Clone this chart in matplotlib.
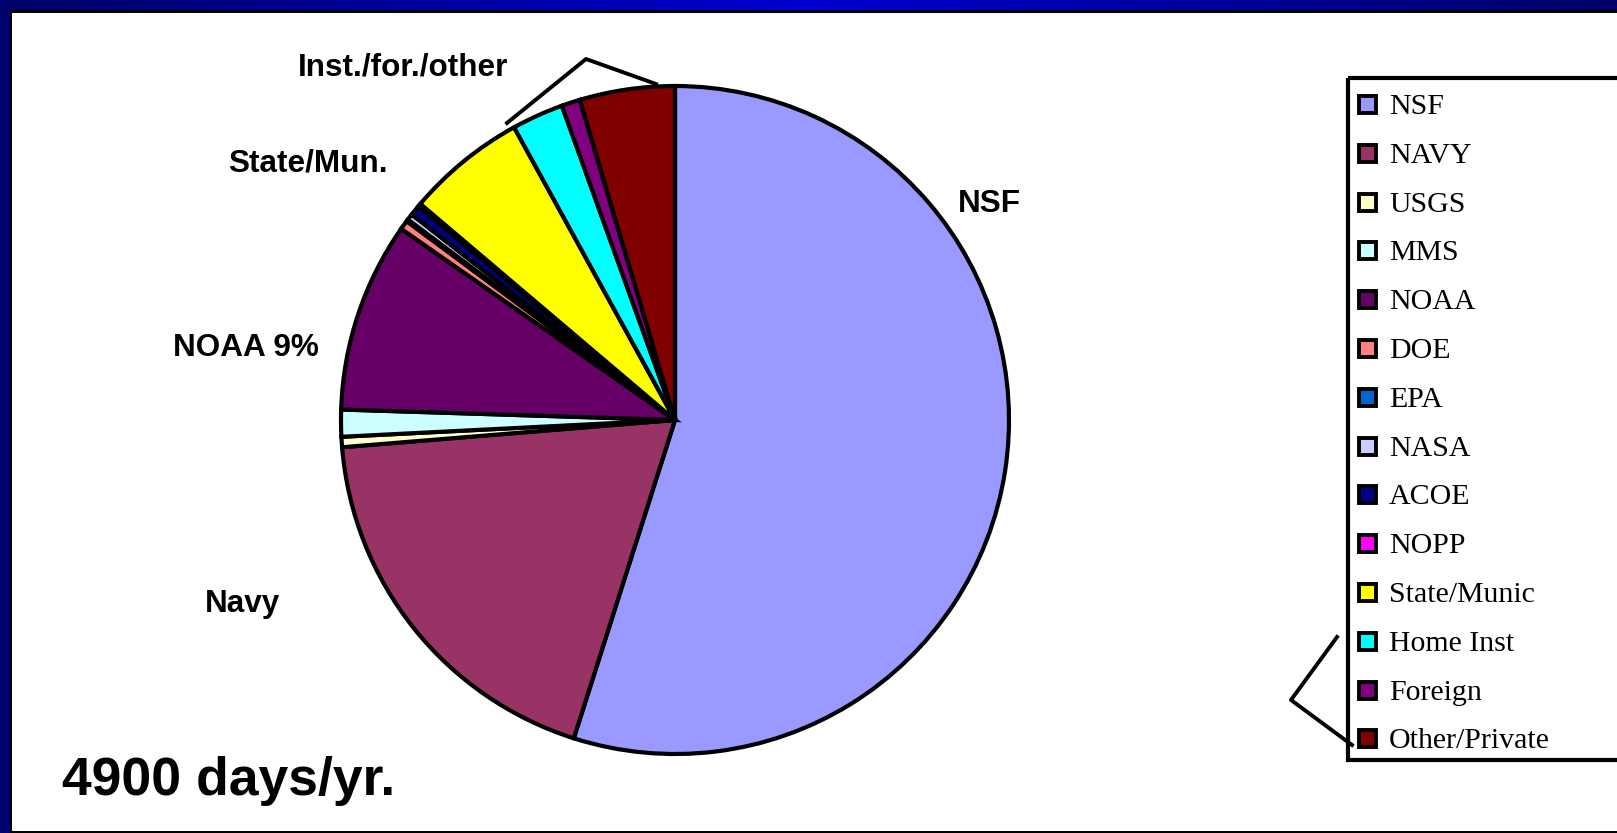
import numpy as np
import matplotlib
matplotlib.use("Agg")
import matplotlib.pyplot as plt
from matplotlib.patches import Rectangle
from matplotlib.lines import Line2D

# ---- data (share of ship days, %) ----
sponsors = ["NSF", "NAVY", "USGS", "MMS", "NOAA", "DOE", "EPA", "NASA",
            "ACOE", "NOPP", "State/Munic", "Home Inst", "Foreign", "Other/Private"]
shares = [54.9, 18.8, 0.5, 1.3, 9.2, 0.45, 0.1, 0.3, 0.5, 0.15, 5.8, 2.5, 0.9, 4.6]
colors = ["#9999FF", "#993366", "#FFFFCC", "#CCFFFF", "#660066", "#FF8080",
          "#0066CC", "#CCCCFF", "#000080", "#FF00FF", "#FFFF00", "#00FFFF",
          "#800080", "#800000"]
pie_labels = ["NSF", "Navy", "NOAA 9%", "State/Mun.", "Inst./for./other"]
total_text = "4900 days/yr."

W, H = 1617, 833
DPI = 100
fig = plt.figure(figsize=(W / DPI, H / DPI), dpi=DPI)
fig.patch.set_facecolor("white")

def fx(x):
    return x / W

def fy(y):
    return 1 - y / H

# ---- slide frame ----
bg = fig.add_axes([0, 0, 1, 1])
bg.set_xlim(0, W)
bg.set_ylim(H, 0)
bg.axis("off")
grad = np.abs(np.linspace(-1, 1, 400))
top = np.zeros((1, 400, 3))
top[0, :, 2] = 0.82 - 0.42 * grad
bg.imshow(top, extent=(0, W, 11, 0), aspect="auto", zorder=1)
bg.add_patch(Rectangle((0, 0), 10, H, color="#000070", zorder=2, lw=0))
bg.add_patch(Rectangle((10, 10), W - 10, 3, color="black", zorder=3, lw=0))
bg.add_patch(Rectangle((10, 10), 2, H - 10, color="black", zorder=3, lw=0))
bg.add_patch(Rectangle((10, 831), W - 10, 2, color="black", zorder=3, lw=0))

# ---- pie ----
cx, cy, r = 675, 420, 334
ax = fig.add_axes([fx(cx - r), fy(cy + r), 2 * r / W, 2 * r / H])
wedges, _ = ax.pie(shares, colors=colors, startangle=90, counterclock=False,
                   radius=1, wedgeprops=dict(edgecolor="black", linewidth=3))
ax.set_xlim(-1, 1)
ax.set_ylim(-1, 1)
ax.set_aspect("equal")
ax.axis("off")
for w in wedges:
    w.set_clip_on(False)

# ---- pie labels ----
lab_font = dict(family="Liberation Sans", weight="bold", fontsize=22.7, color="black")
label_pos = [(958, 212), (205, 612), (173, 356), (228, 172), (298, 75)]
for t, (x, y) in zip(pie_labels, label_pos):
    fig.text(fx(x), fy(y), t, ha="left", va="baseline", **lab_font)
fig.text(fx(62), fy(795), total_text, ha="left", va="baseline",
         family="Liberation Sans", weight="bold", fontsize=38.5)

# leader line for Inst./for./other
bg.add_line(Line2D([507, 586, 656], [123, 59, 84], color="black", lw=2.8, zorder=5))

# ---- legend ----
bg.add_patch(Rectangle((1348, 78), 400, 682, fill=False, edgecolor="black",
                       lw=3, zorder=5, clip_on=False))
y0, dy = 104, 48.8
for i, (name, c) in enumerate(zip(sponsors, colors)):
    yc = y0 + i * dy
    bg.add_patch(Rectangle((1359, yc - 8), 17, 17, facecolor=c, edgecolor="black",
                           lw=2.8, zorder=6))
    bg.text(1389, yc + 10, name, ha="left", va="baseline",
            family="Liberation Serif", fontsize=21.5, color="black", zorder=6)

# bracket from legend
bg.add_line(Line2D([1337, 1291, 1352], [637, 700, 745], color="black", lw=2.8, zorder=5))

fig.savefig("out.png", dpi=DPI)
